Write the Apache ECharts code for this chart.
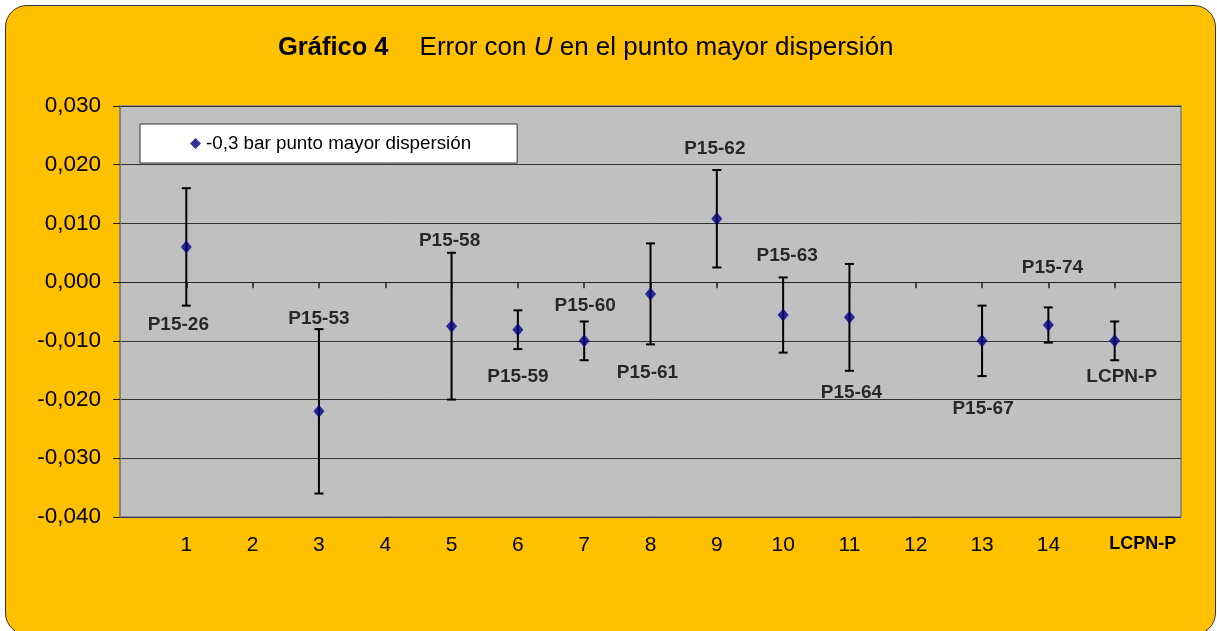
<!DOCTYPE html>
<html>
  <head>
    <meta charset="utf-8" />
    <script src="https://cdn.jsdelivr.net/npm/echarts@6.0.0/dist/echarts.min.js"></script>
    <style>
      html, body { margin: 0; padding: 0; background: #fff; overflow: hidden; }
      #card {
        position: absolute; left: 5px; top: 5px; width: 1209px; height: 628px;
        background: #ffc000; border: 1.5px solid #333; border-radius: 22px;
      }
      #main { position: absolute; left: 0; top: 0; width: 1217px; height: 631px; }
    </style>
  </head>
  <body>
    <div id="card"></div>
    <div id="main"></div>

    <script type="text/javascript">
      // data
      var xTickLabels = ["1", "2", "3", "4", "5", "6", "7", "8", "9", "10", "11", "12", "13", "14", "LCPN-P"];
      var xPos = [1, 3, 5, 6, 7, 8, 9, 10, 11, 13, 14, 15];
      var pointNames = ["P15-26", "P15-53", "P15-58", "P15-59", "P15-60", "P15-61",
                        "P15-62", "P15-63", "P15-64", "P15-67", "P15-74", "LCPN-P"];
      var errorValues = [0.0060, -0.0220, -0.0075, -0.0081, -0.0100, -0.0020,
                         0.0108, -0.0056, -0.0060, -0.0100, -0.0073, -0.0100];
      var uncertU = [0.0100, 0.0140, 0.0125, 0.0033, 0.0033, 0.0086,
                     0.0083, 0.0064, 0.0091, 0.0060, 0.0030, 0.0033];
      // where each point label sits, relative to its point (px)
      var labelOffsets = [[-8, 78], [0, -93], [-2, -85], [0, 47], [1, -35], [-3, 79],
                          [-2, -70], [4, -59], [2, 75], [1, 68], [4, -57], [7, 36]];

      var seriesName = "-0,3 bar punto mayor dispersión";
      var font = "Liberation Sans";

      function fmt(v) {
        return v.toFixed(3).replace(".", ",");
      }

      var tickValues = xTickLabels.map(function (_, i) { return i + 1; });

      var myChart = echarts.init(document.getElementById("main"));

      var option = {
        animation: false,
        backgroundColor: "transparent",
        title: {
          text: "{b|Gráfico 4}{n|Error con }{i|U}{n| en el punto mayor dispersión}",
          left: 273,
          top: 30,
          textStyle: {
            rich: {
              b: { fontFamily: font, fontSize: 25.5, fontWeight: "bold", color: "#000", padding: [0, 31, 0, 0] },
              n: { fontFamily: font, fontSize: 26, fontWeight: "normal", color: "#000" },
              i: { fontFamily: font, fontSize: 26, fontWeight: "normal", fontStyle: "italic", color: "#000" }
            }
          }
        },
        legend: {
          data: [seriesName],
          left: 140,
          top: 124,
          backgroundColor: "#fff",
          borderColor: "#333",
          borderWidth: 1,
          borderRadius: 0,
          padding: [10, 46, 10, 50],
          itemWidth: 11,
          itemHeight: 11,
          itemGap: 4,
          icon: "diamond",
          textStyle: { fontFamily: font, fontSize: 18.8, color: "#000" }
        },
        grid: {
          left: 120,
          right: 36,
          top: 106,
          bottom: 114,
          show: true,
          backgroundColor: "#c0c0c0",
          borderColor: "#808080",
          borderWidth: 1.5
        },
        xAxis: [
          {
            type: "value",
            min: 0,
            max: 16,
            interval: 1,
            axisLine: { show: false, onZero: false },
            axisTick: { show: false },
            splitLine: { show: false },
            axisLabel: {
              margin: 18,
              fontFamily: font,
              fontSize: 21,
              color: "#000",
              formatter: function (v) {
                var lab = xTickLabels[v - 1];
                if (!lab) return "";
                if (lab === "LCPN-P") return "{b|" + lab + "}";
                return lab;
              },
              rich: {
                b: { fontFamily: font, fontSize: 18, fontWeight: "bold", color: "#000", padding: [0, 0, 8, 56] }
              }
            }
          },
          {
            type: "value",
            position: "bottom",
            min: 0,
            max: 16,
            interval: 1,
            axisLine: { show: true, onZero: true, lineStyle: { color: "#222", width: 1 } },
            axisTick: { show: true, length: 6, customValues: tickValues, lineStyle: { color: "#222", width: 1.5 } },
            axisLabel: { show: false },
            splitLine: { show: false }
          }
        ],
        yAxis: {
          type: "value",
          min: -0.04,
          max: 0.03,
          interval: 0.01,
          axisLine: { show: true, lineStyle: { color: "#808080", width: 1.5 } },
          axisTick: { show: true, length: 7, lineStyle: { color: "#222" } },
          splitLine: { show: true, lineStyle: { color: "#333", width: 1 } },
          axisLabel: {
            margin: 19,
            fontFamily: font,
            fontSize: 22.5,
            color: "#000",
            formatter: fmt
          }
        },
        series: [
          {
            type: "custom",
            name: "U",
            xAxisIndex: 0,
            z: 2,
            silent: true,
            renderItem: function (params, api) {
              var x = api.value(0), y = api.value(1), u = api.value(2);
              var hi = api.coord([x, y + u]);
              var lo = api.coord([x, y - u]);
              var w = 4.5;
              var st = { stroke: "#000", lineWidth: 2 };
              return {
                type: "group",
                children: [
                  { type: "line", shape: { x1: hi[0], y1: hi[1], x2: lo[0], y2: lo[1] }, style: st },
                  { type: "line", shape: { x1: hi[0] - w, y1: hi[1], x2: hi[0] + w, y2: hi[1] }, style: st },
                  { type: "line", shape: { x1: lo[0] - w, y1: lo[1], x2: lo[0] + w, y2: lo[1] }, style: st }
                ]
              };
            },
            encode: { x: 0, y: 1 },
            data: xPos.map(function (x, i) { return [x, errorValues[i], uncertU[i]]; })
          },
          {
            type: "scatter",
            name: seriesName,
            xAxisIndex: 0,
            z: 3,
            symbol: "diamond",
            symbolSize: [11, 13],
            itemStyle: { color: "#000080" },
            label: {
              show: true,
              position: "inside",
              fontFamily: font,
              fontSize: 19,
              fontWeight: "bold",
              color: "#000",
              formatter: function (p) { return p.name; }
            },
            data: xPos.map(function (x, i) {
              return {
                name: pointNames[i],
                value: [x, errorValues[i]],
                label: { offset: labelOffsets[i] }
              };
            })
          }
        ]
      };

      myChart.setOption(option);
    </script>
  </body>
</html>
